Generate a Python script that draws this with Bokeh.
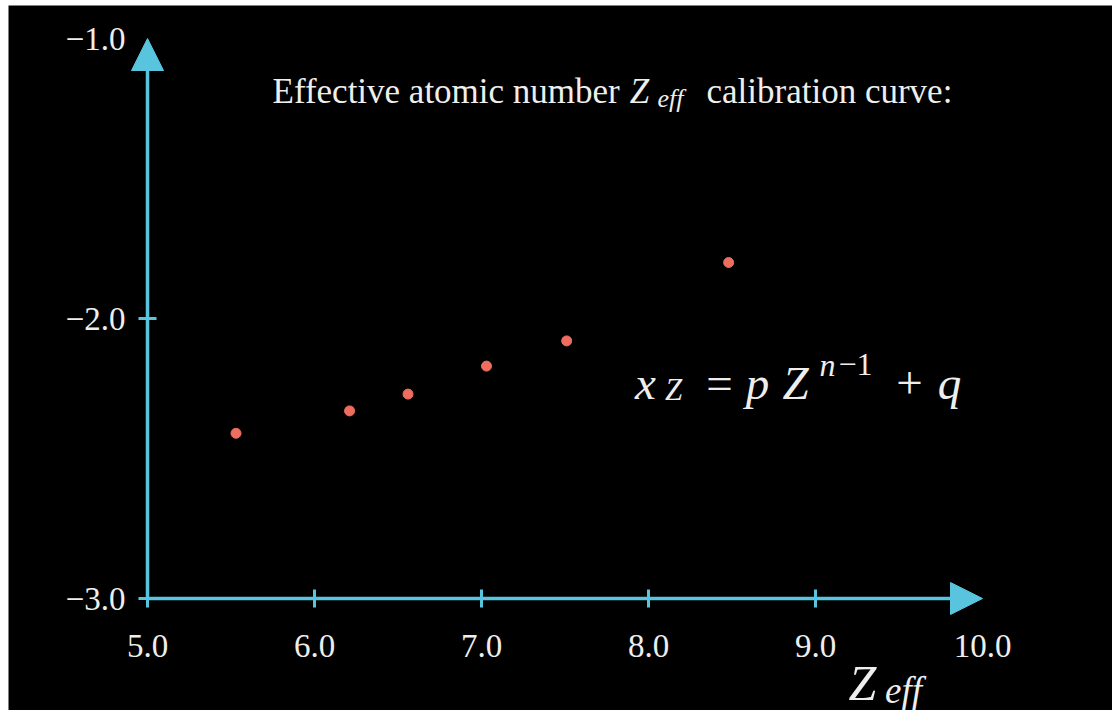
import math
from bokeh.plotting import figure
from bokeh.models import Range1d, Arrow, NormalHead
from bokeh.core.properties import value
from bokeh.embed import file_html
from bokeh.resources import INLINE

# ---------------- data ----------------
zeff = [5.53, 6.21, 6.56, 7.03, 7.51, 8.48]
xz = [-2.41, -2.33, -2.27, -2.17, -2.08, -1.80]
x_ticks = [5.0, 6.0, 7.0, 8.0, 9.0, 10.0]
x_tick_labels = ["5.0", "6.0", "7.0", "8.0", "9.0", "10.0"]
y_ticks = [-3.0, -2.0, -1.0]
y_tick_labels = ["\u22123.0", "\u22122.0", "\u22121.0"]

# ---------------- styles / layout ----------------
CYAN = "#58C4DD"
DOT = "#EE6D5E"
TXT = "#EEEEEE"
FONT = value("Liberation Serif")
W, H = 1112, 710
BL, BT = 8, 5                       # white border left / top
PX_X = 167.0                        # pixels per x unit
PX_Y = 280.0                        # pixels per y unit
X0_PX, Y0_PX = 147, 598             # pixel position of axis origin
X_START = x_ticks[0] - (X0_PX - BL) / PX_X
X_END = x_ticks[0] + (W - X0_PX) / PX_X
Y_START = y_ticks[0] - (H - Y0_PX) / PX_Y
Y_END = y_ticks[0] + (Y0_PX - BT) / PX_Y


def dx(px):
    return X_START + (px - BL) / PX_X


def dy(py):
    return Y_END - (py - BT) / PX_Y


p = figure(width=W, height=H, output_backend="svg", toolbar_location=None,
           x_axis_location=None, y_axis_location=None,
           x_range=Range1d(X_START, X_END), y_range=Range1d(Y_START, Y_END),
           min_border_left=BL, min_border_right=0, min_border_top=BT, min_border_bottom=0)
p.background_fill_color = "black"
p.border_fill_color = "white"
p.outline_line_color = None
p.grid.visible = False

# axes as arrows
p.add_layout(Arrow(end=NormalHead(size=32, fill_color=CYAN, line_color=CYAN, line_width=1),
                   x_start=x_ticks[0], y_start=y_ticks[0], x_end=x_ticks[-1], y_end=y_ticks[0],
                   line_color=CYAN, line_width=3.5))
p.add_layout(Arrow(end=NormalHead(size=32, fill_color=CYAN, line_color=CYAN, line_width=1),
                   x_start=x_ticks[0], y_start=y_ticks[0], x_end=x_ticks[0], y_end=y_ticks[-1],
                   line_color=CYAN, line_width=3.5))

# tick marks
p.scatter(x=x_ticks[:-1], y=[y_ticks[0]] * (len(x_ticks) - 1), marker="dash", size=18,
          angle=math.pi / 2, line_color=CYAN, line_width=3)
p.scatter(x=[x_ticks[0]] * (len(y_ticks) - 1), y=y_ticks[:-1], marker="dash", size=18,
          line_color=CYAN, line_width=3)

# tick labels
p.text(x=x_ticks, y=[y_ticks[0]] * len(x_ticks), text=x_tick_labels, text_align="center",
       text_baseline="alphabetic", y_offset=47, text_font=FONT, text_font_size="33px",
       text_color=TXT)
p.text(x=[x_ticks[0]] * len(y_ticks), y=y_ticks, text=y_tick_labels, text_align="right",
       text_baseline="middle", x_offset=-22, text_font=FONT, text_font_size="33px",
       text_color=TXT)

# data points
p.scatter(x=zeff, y=xz, size=10, fill_color=DOT, line_color=DOT)


def put(txt, px, py, size, align="left", style="normal"):
    p.text(x=[dx(px)], y=[dy(py)], text=[txt], text_align=align, text_baseline="alphabetic",
           text_font=FONT, text_font_size=f"{size}px", text_font_style=style, text_color=TXT)


# title
put("Effective atomic number", 272, 91, 35)
put("Z", 639, 91, 35, "center", "italic")
put("eff", 670, 98, 26, "center", "italic")
put("calibration curve:", 706, 91, 35)

# formula  x_Z = p Z^{n-1} + q
put("x", 645, 382, 47, "center", "italic")
put("Z", 673, 389, 31, "center", "italic")
put("=", 719, 382, 47, "center")
put("p", 757, 382, 47, "center", "italic")
put("Z", 795, 382, 47, "center", "italic")
put("n", 827, 364, 32, "center", "italic")
put("\u22121", 838, 364, 32, "left")
put("+", 909, 382, 47, "center")
put("q", 949, 382, 47, "center", "italic")

# x-axis label
put("Z", 862, 682, 50, "center", "italic")
put("eff", 903, 690, 37, "center", "italic")

open("out.html", "w").write(file_html(p, INLINE))
